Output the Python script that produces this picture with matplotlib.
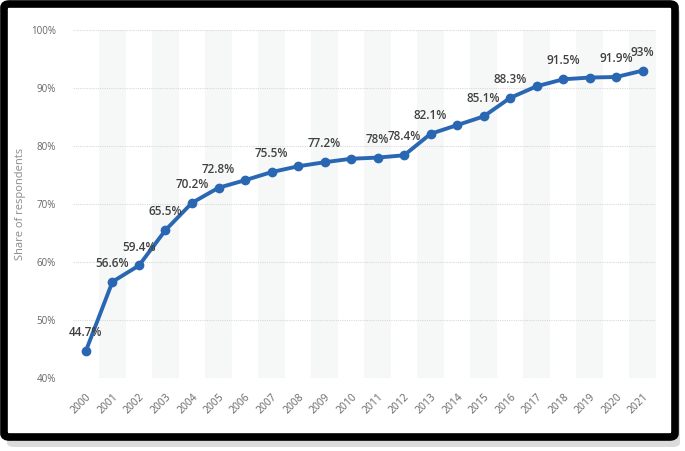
import matplotlib
matplotlib.use("Agg")
import matplotlib.pyplot as plt
from matplotlib.patches import FancyBboxPatch

years = [str(y) for y in range(2000, 2022)]
values = [44.7, 56.6, 59.4, 65.5, 70.2, 72.8, 74.1, 75.5, 76.5, 77.2, 77.8,
          78.0, 78.4, 82.1, 83.6, 85.1, 88.3, 90.3, 91.5, 91.8, 91.9, 93.0]
labels = ["44.7%", "56.6%", "59.4%", "65.5%", "70.2%", "72.8%", None, "75.5%", None,
          "77.2%", None, "78%", "78.4%", "82.1%", None, "85.1%", "88.3%", None,
          "91.5%", None, "91.9%", "93%"]
yticks = [40, 50, 60, 70, 80, 90, 100]
ytick_labels = ["40%", "50%", "60%", "70%", "80%", "90%", "100%"]

plt.rcParams['font.family'] = ['Open Sans', 'DejaVu Sans']

W, H = 685, 451
fig = plt.figure(figsize=(W / 100, H / 100), dpi=100)
fig.patch.set_facecolor('white')

def fx(px):
    return px / W
def fy(py):
    return 1 - py / H

shadow = FancyBboxPatch((fx(7), fy(447)), fx(680) - fx(7), fy(8) - fy(447),
                        boxstyle="round,pad=0,rounding_size=0.01",
                        transform=fig.transFigure, facecolor='#c4c4c4',
                        edgecolor='none', alpha=0.6, zorder=0)
fig.patches.append(shadow)
frame = FancyBboxPatch((fx(4), fy(437)), fx(675) - fx(4), fy(4) - fy(437),
                       boxstyle="round,pad=0,rounding_size=0.008",
                       transform=fig.transFigure, facecolor='white',
                       edgecolor='black', linewidth=5.5, zorder=1)
fig.patches.append(frame)

ax = fig.add_axes([fx(72.7), fy(378), fx(656) - fx(72.7), fy(30) - fy(378)])
ax.set_zorder(2)
ax.patch.set_alpha(0)

x = list(range(len(years)))
for i in x:
    if i % 2 == 1:
        ax.axvspan(i - 0.5, i + 0.5, color='#f6f7f7', zorder=0, lw=0)

for yv in yticks:
    ax.axhline(yv, color='#d9d9d9', lw=0.8, ls=(0, (1, 1)), zorder=1)

ax.plot(x, values, color='#2a67b3', lw=2.8, marker='o', markersize=6,
        zorder=3, solid_capstyle='round', solid_joinstyle='round')

for i, (v, lab) in enumerate(zip(values, labels)):
    if lab:
        ax.annotate(lab, (i, v), xytext=(0, 8.5), textcoords='offset points',
                    ha='center', va='bottom', fontsize=8.5, color='#404040',
                    fontweight='semibold', zorder=4)

ax.set_xlim(-0.5, len(years) - 0.5)
ax.set_ylim(40, 100)
ax.set_yticks(yticks)
ax.set_yticklabels(ytick_labels)
ax.set_xticks(x)
ax.set_xticklabels(years, rotation=45, ha='right', va='top', rotation_mode='anchor')
ax.tick_params(axis='both', length=0, labelsize=7.5, labelcolor='#666666')
ax.tick_params(axis='y', pad=12, labelsize=7)
ax.tick_params(axis='x', pad=10)
for s in ax.spines.values():
    s.set_visible(False)

fig.text(fx(21), fy(204), "Share of respondents", rotation=90, ha='center',
         va='center', fontsize=8, color='#8a8a8a')

fig.savefig("out.png", dpi=100, facecolor='white')
